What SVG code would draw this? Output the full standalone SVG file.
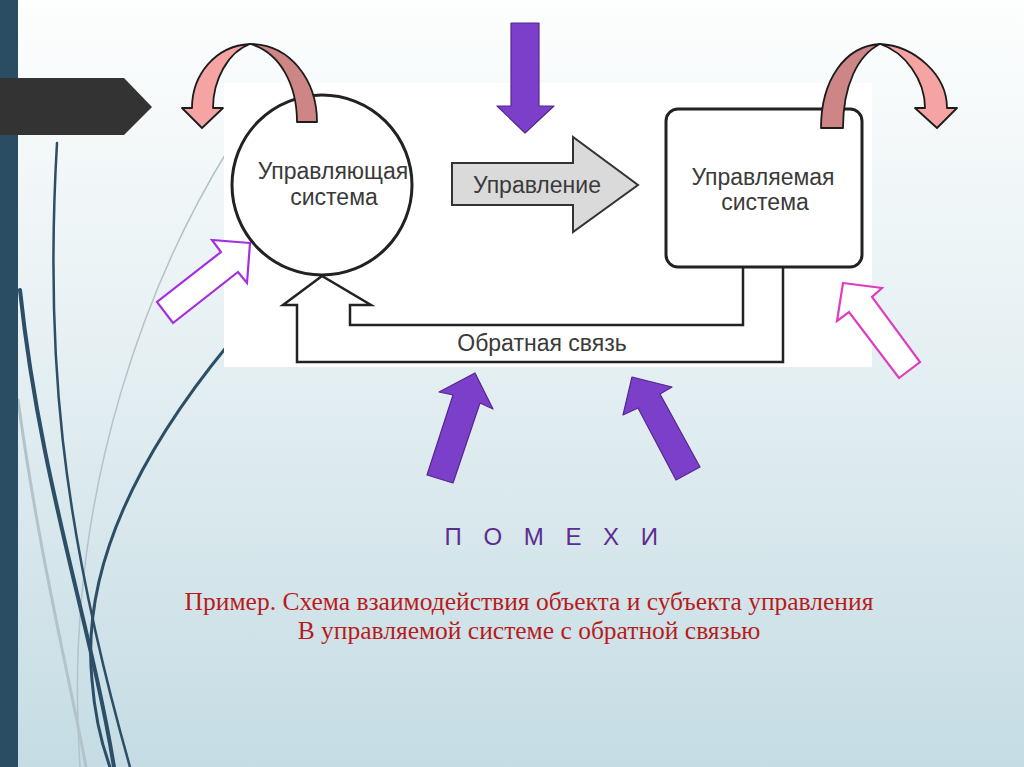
<svg xmlns="http://www.w3.org/2000/svg" width="1024" height="767" viewBox="0 0 1024 767">
  <defs>
    <linearGradient id="bg" x1="0" y1="0" x2="0" y2="1">
      <stop offset="0" stop-color="#fdfefe"/>
      <stop offset="0.45" stop-color="#e6f0f3"/>
      <stop offset="1" stop-color="#c5dce4"/>
    </linearGradient>
  </defs>
  <style>
    .lbl { font-family: "Liberation Sans", Arial, sans-serif; fill: #3a3a3a; font-size: 23px; text-anchor: middle; }
    .cap { font-family: "Liberation Serif", "Times New Roman", serif; fill: #b71c1c; font-size: 25.5px; text-anchor: middle; }
    .deco-dark { fill: none; stroke: #2c4e66; stroke-linecap: round; }
    .deco-light { fill: none; stroke: #b3c3ca; stroke-linecap: round; }
    .curl-light { fill: #f5a3a3; stroke: #1c1c1c; stroke-width: 1.8; stroke-linejoin: round; }
    .curl-dark { fill: #cd8585; stroke: #1c1c1c; stroke-width: 1.8; stroke-linejoin: round; }
    .solid-purple { fill: #7b3fc9; stroke: #55278f; stroke-width: 1.2; stroke-linejoin: round; }
    .hollow { fill: #ffffff; stroke-width: 2.2; stroke-linejoin: miter; }
    .line { fill: none; stroke: #222222; stroke-linejoin: miter; }
  </style>

  <!-- background -->
  <rect x="0" y="0" width="1024" height="767" fill="url(#bg)"/>

  <!-- decorative curves -->
  <g id="decoration">
    <path class="deco-light" stroke-width="3" d="M 18,400 C 40,560 70,680 86,767"/>
    <path class="deco-light" stroke-width="1.5" d="M 228,150 C 160,260 60,480 80,767"/>
    <path class="deco-dark" stroke-width="4" d="M 20,290 C 40,480 90,620 114,767"/>
    <path class="deco-dark" stroke-width="2.5" d="M 57,143 C 45,350 60,520 130,767"/>
    <path class="deco-dark" stroke-width="3" d="M 228,345 C 150,440 80,560 92,680 C 95,720 102,745 110,767"/>
    <rect x="0" y="0" width="18" height="767" fill="#2b4d64"/>
    <polygon points="0,78 124,78 152,107 124,135 0,135" fill="#333333"/>
  </g>

  <!-- picture backdrop -->
  <rect x="224" y="83" width="648" height="284" fill="#ffffff"/>

  <!-- connectors -->
  <g id="connectors">
    <path id="feedback" class="line" stroke-width="2.5" d="M 783,267 V 362 H 297 V 305 H 283 L 322,276 L 371,305 H 350 V 325 H 743 V 267"/>
    <g id="control-arrow">
      <polygon points="452,163 573,163 573,137 638,185 573,232 573,205 452,205" fill="#dadada" stroke="#333333" stroke-width="2"/>
      <text class="lbl" x="537" y="193">Управление</text>
    </g>
  </g>

  <!-- nodes -->
  <g id="node-controlling">
    <circle cx="322" cy="185" r="90" fill="#ffffff" stroke="#222222" stroke-width="3"/>
    <text class="lbl" x="333" y="179">Управляющая</text>
    <text class="lbl" x="334" y="205">система</text>
  </g>

  <g id="node-controlled">
    <rect x="666" y="109" width="196" height="158" rx="12" fill="#ffffff" stroke="#222222" stroke-width="3"/>
    <text class="lbl" x="763" y="185">Управляемая</text>
    <text class="lbl" x="765" y="210">система</text>
  </g>

  <g id="feedback-label">
    <text class="lbl" x="542" y="351">Обратная связь</text>
  </g>

  <!-- curled arrows -->
  <g id="curl-left">
    <path class="curl-dark" d="M 250,44 C 290,44 317,80 317,122 L 297,122 C 297,85 280,52 250,44 Z"/>
    <path class="curl-light" d="M 250,44 C 215,46 192,75 192,108 L 182,108 L 202,128 L 223,108 L 213,108 C 213,80 228,52 250,44 Z"/>
  </g>
  <g id="curl-right">
    <path class="curl-dark" d="M 880,44 C 845,46 821,80 821,128 L 843,128 C 843,85 858,55 880,44 Z"/>
    <path class="curl-light" d="M 880,44 C 915,46 947,75 947,108 L 957,108 L 937,128 L 915,108 L 925,108 C 925,80 905,52 880,44 Z"/>
  </g>

  <!-- disturbance arrows -->
  <g id="arrow-top">
    <polygon class="solid-purple" points="511,23 539,23 539,106 554,106 525,133 497,106 511,106"/>
  </g>
  <g id="arrow-bottom-left">
    <polygon class="solid-purple" points="475,373 493,409 480,403 453,483 427,475 453,395 439,392"/>
  </g>
  <g id="arrow-bottom-right">
    <polygon class="solid-purple" points="632,377 672,387 660,394 700,467 676,480 638,408 623,415"/>
  </g>
  <g id="arrow-hollow-left">
    <polygon class="hollow" stroke="#a52ee0" points="250,243 212,240 221,252 157,302 173,323 238,272 247,283"/>
  </g>
  <g id="arrow-hollow-right">
    <polygon class="hollow" stroke="#e03cc0" points="843,283 882,288 872,297 920,362 899,378 849,312 837,321"/>
  </g>

  <!-- captions -->
  <text x="555" y="545" font-family="'Liberation Sans', Arial, sans-serif" font-size="24" fill="#5a2d8f" text-anchor="middle" letter-spacing="7.5">П О М Е Х И</text>
  <text class="cap" x="529" y="610">Пример. Схема взаимодействия объекта и субъекта управления</text>
  <text class="cap" x="529" y="639">В управляемой системе с обратной связью</text>
</svg>
